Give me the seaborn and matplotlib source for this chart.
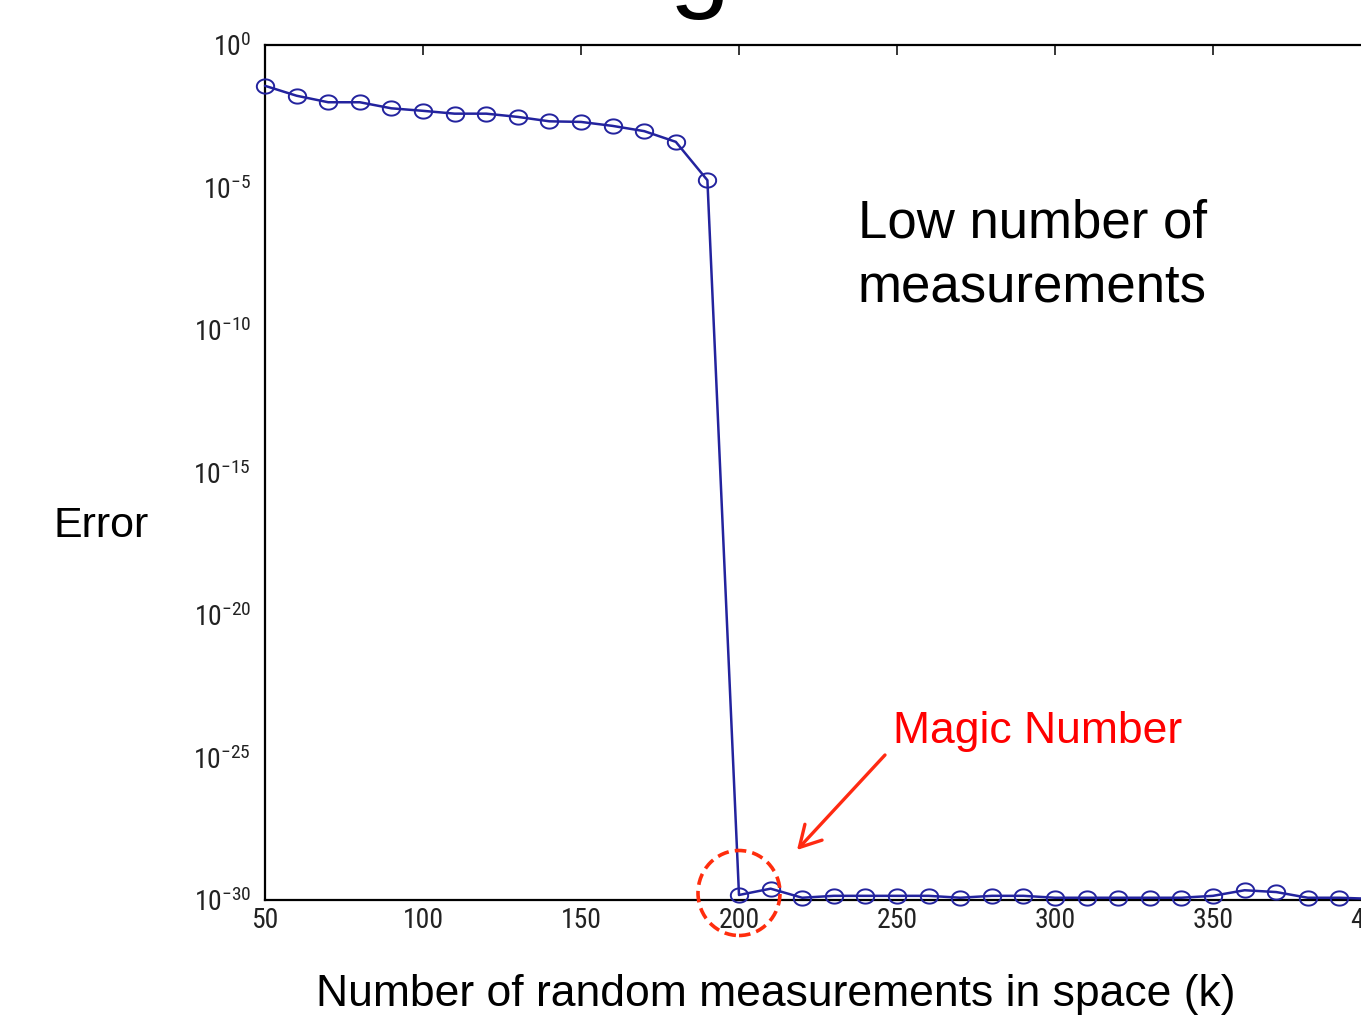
import numpy as np
import pandas as pd
import matplotlib
matplotlib.use("Agg")
import matplotlib.pyplot as plt
import seaborn as sns
from matplotlib import font_manager as fm
from matplotlib.patches import Ellipse
from matplotlib.ticker import FixedLocator, NullLocator, FuncFormatter

# ---------------- data ----------------
k_values = [50, 60, 70, 80, 90, 100, 110, 120, 130, 140, 150, 160, 170, 180, 190,
            200, 210, 220, 230, 240, 250, 260, 270, 280, 290, 300, 310, 320, 330,
            340, 350, 360, 370, 380, 390, 400]
errors = [3.7e-2, 1.66e-2, 9.8e-3, 9.8e-3, 6.0e-3, 4.9e-3, 3.9e-3, 3.9e-3, 3.0e-3,
          2.1e-3, 2.0e-3, 1.45e-3, 9.5e-4, 4.0e-4, 1.8e-5,
          1.5e-30, 2.5e-30, 1.2e-30, 1.4e-30, 1.4e-30, 1.4e-30, 1.4e-30, 1.2e-30,
          1.4e-30, 1.4e-30, 1.2e-30, 1.2e-30, 1.2e-30, 1.2e-30, 1.2e-30, 1.4e-30,
          2.2e-30, 1.9e-30, 1.2e-30, 1.2e-30, 1.1e-30]
x_ticks = [50, 100, 150, 200, 250, 300, 350, 400]
y_tick_exponents = [0, -5, -10, -15, -20, -25, -30]

title_text = "Magic Number"
x_label = "Number of random measurements in space (k)"
y_label = "Error"
note_lines = ["Low number of", "measurements"]
magic_label = "Magic Number"

df = pd.DataFrame({"k": k_values, "error": errors})


def has_font(name):
    try:
        fm.findfont(fm.FontProperties(family=name), fallback_to_default=False)
        return True
    except Exception:
        return False


def find_narrow_font():
    for name in ["Liberation Sans Narrow", "Roboto Condensed", "DejaVu Sans Condensed",
                 "Open Sans Condensed", "Noto Sans Condensed"]:
        if has_font(name):
            return name, None
    for f in fm.fontManager.ttflist:
        nm = f.name.lower()
        if ("narrow" in nm or "condensed" in nm) and f.weight in (400, "normal", "regular") \
                and f.style == "normal":
            return None, f.fname
    for f in fm.fontManager.ttflist:
        st = str(f.stretch).lower()
        if "condensed" in st and f.style == "normal" and f.weight in (400, "normal", "regular"):
            return None, f.fname
    return None, None


TEXT_FONT = "Liberation Sans" if has_font("Liberation Sans") else "DejaVu Sans"
narrow_name, narrow_file = find_narrow_font()
if narrow_name is not None:
    tick_prop = fm.FontProperties(family=narrow_name, size=20)
elif narrow_file is not None:
    tick_prop = fm.FontProperties(fname=narrow_file, size=20)
else:
    tick_prop = fm.FontProperties(family="DejaVu Sans", size=16)

sns.set_style("white")
plt.rcParams["font.family"] = [TEXT_FONT, "DejaVu Sans"]
plt.rcParams["text.color"] = "black"
plt.rcParams["axes.labelcolor"] = "black"

W, H = 1361, 1023
fig = plt.figure(figsize=(W / 100, H / 100), dpi=100)
fig.patch.set_facecolor("white")

# axes: left spine at x=265, top at y=45, bottom at y=900, right at ~1371 (off canvas)
ax_left, ax_right, ax_top, ax_bottom = 265, 1371, 45, 900
ax = fig.add_axes([ax_left / W, 1 - ax_bottom / H,
                   (ax_right - ax_left) / W, (ax_bottom - ax_top) / H])
ax.set_facecolor("white")

# slightly flattened open circle marker (as in the stretched original)
theta = np.linspace(0, 2 * np.pi, 60)
ellipse_marker = list(zip(np.cos(theta), 0.82 * np.sin(theta)))

line_color = "#23239e"
sns.lineplot(data=df, x="k", y="error", ax=ax, estimator=None, color=line_color,
             linewidth=1.8, marker=ellipse_marker, markersize=12.5, markerfacecolor="none",
             markeredgecolor=line_color, markeredgewidth=1.4)
for ln in ax.lines:
    ln.set_clip_on(False)
    ln.set_zorder(3)

ax.set_yscale("log")
ax.set_xlim(50, 400)
ax.set_ylim(1e-30, 1e0)

ax.xaxis.set_major_locator(FixedLocator(x_ticks))
ax.yaxis.set_major_locator(FixedLocator([10.0 ** e for e in y_tick_exponents]))
ax.yaxis.set_minor_locator(NullLocator())
ax.xaxis.set_minor_locator(NullLocator())
ax.yaxis.set_major_formatter(
    FuncFormatter(lambda v, p: r"$\mathregular{10^{%d}}$" % int(round(np.log10(v)))))

for s in ax.spines.values():
    s.set_visible(True)
    s.set_color("black")
    s.set_linewidth(1.6)

ax.tick_params(axis="both", which="major", direction="in", length=7.5, width=1.1,
               colors="black", top=True, right=True)
ax.tick_params(axis="x", pad=5)
ax.tick_params(axis="y", pad=10)
fig.canvas.draw()
for lab in ax.get_xticklabels() + ax.get_yticklabels():
    lab.set_fontproperties(tick_prop)
    lab.set_color("#222222")

# axis labels
ax.set_xlabel(x_label, fontsize=32, fontfamily=TEXT_FONT, color="black")
ax.xaxis.set_label_coords((776 - ax_left) / (ax_right - ax_left),
                          (ax_bottom - 1006) / (ax_bottom - ax_top))
ax.xaxis.label.set_ha("center")
ax.xaxis.label.set_va("baseline")

ax.set_ylabel(y_label, fontsize=31, fontfamily=TEXT_FONT, rotation=0, color="black")
ax.yaxis.set_label_coords((101 - ax_left) / (ax_right - ax_left),
                          (ax_bottom - 537) / (ax_bottom - ax_top))
ax.yaxis.label.set_ha("center")
ax.yaxis.label.set_va("baseline")

# slide title, mostly cut off at the top edge
fig.text(517 / W, 1.0 + 3 / H, title_text, fontsize=79, fontfamily=TEXT_FONT,
         ha="left", va="baseline", color="black")

# annotation texts
fig.text(858 / W, 1 - 238 / H, note_lines[0], fontsize=38, fontfamily=TEXT_FONT,
         ha="left", va="baseline", color="black")
fig.text(858 / W, 1 - 302 / H, note_lines[1], fontsize=38, fontfamily=TEXT_FONT,
         ha="left", va="baseline", color="black")
fig.text(893 / W, 1 - 743 / H, magic_label, fontsize=32, fontfamily=TEXT_FONT,
         ha="left", va="baseline", color="#ff0000")

# arrow
ax.annotate("", xy=(797 / W, 1 - 850 / H), xycoords="figure fraction",
            xytext=(885 / W, 1 - 755 / H), textcoords="figure fraction",
            arrowprops=dict(arrowstyle="->,head_length=0.75,head_width=0.42",
                            color="#ff2a12", lw=2.4, mutation_scale=20,
                            shrinkA=0, shrinkB=0),
            annotation_clip=False)

# dashed circle around the magic number
circ = Ellipse((739 / W, 1 - 893 / H), 82 / W, 85 / H, transform=fig.transFigure,
               fill=False, edgecolor="#ff2d0d", linewidth=2.6,
               linestyle=(0, (3.2, 1.7)), zorder=10, clip_on=False)
fig.add_artist(circ)

fig.savefig("out.png", dpi=100, facecolor="white")
